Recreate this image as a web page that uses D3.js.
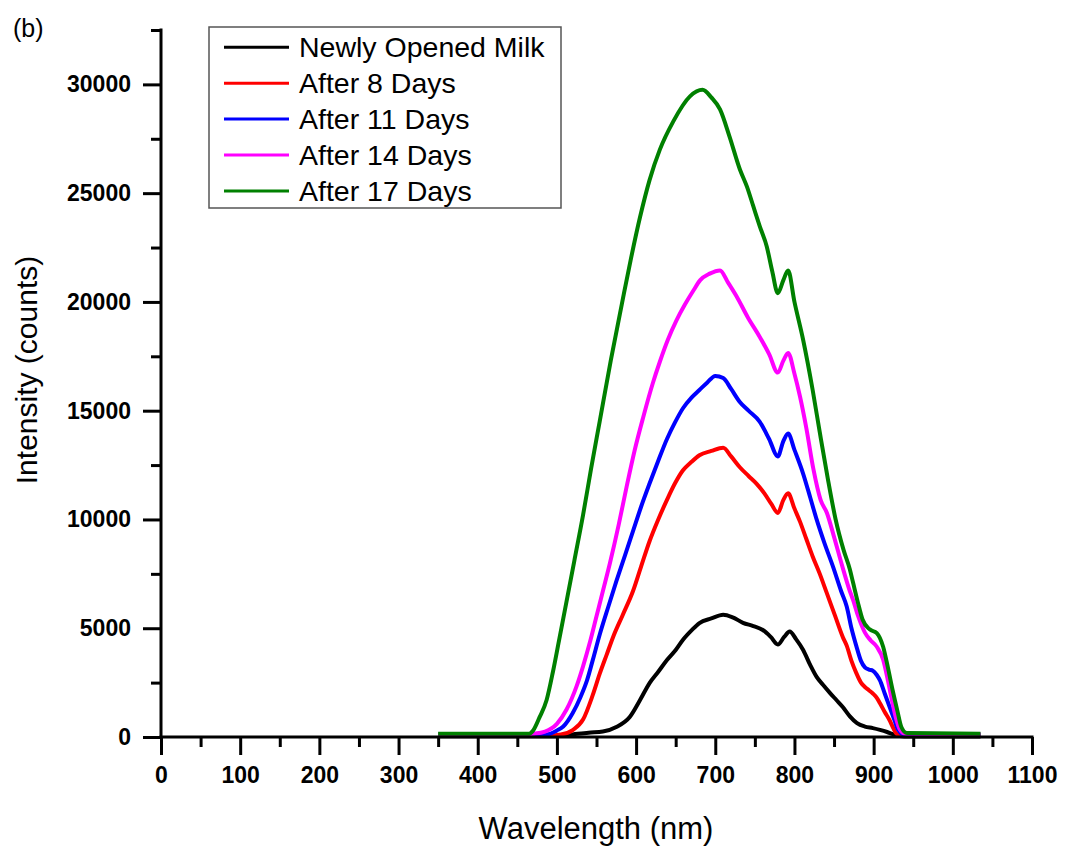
<!DOCTYPE html>
<html>
<head>
<meta charset="utf-8">
<script src="https://cdn.jsdelivr.net/npm/d3@7"></script>
<style>
  body { margin: 0; background: #fff; }
  svg { display: block; font-family: "Liberation Sans", Arial, sans-serif; }
</style>
</head>
<body>
<svg id="svg" width="1072" height="850"></svg>
<script>
/**
 * DATA  (wavelength nm, intensity counts)
 */
var seriesNames = ["Newly Opened Milk", "After 8 Days", "After 11 Days", "After 14 Days", "After 17 Days"];
var seriesColors = ["#000000", "#ff0000", "#0000ff", "#ff00ff", "#008000"];

var newlyOpened = [[350,30],[400,30],[450,30],[500,40],[520,120],[540,200],[558,250],[575,460],[592,920],[605,1700],[617,2480],[628,3000],[639,3540],[650,4000],[659,4460],[670,4900],[680,5240],[695,5450],[710,5620],[722,5500],[735,5250],[748,5100],[760,4920],[770,4600],[779,4250],[787,4600],[794,4850],[802,4500],[811,4000],[820,3300],[828,2760],[836,2400],[845,2020],[853,1700],[861,1380],[870,950],[879,640],[889,480],[899,410],[908,330],[917,230],[925,120],[933,50],[945,20],[1000,20],[1035,20]];

var after8 = [[350,80],[450,80],[490,80],[505,120],[520,320],[533,800],[545,1900],[554,2900],[563,3800],[571,4600],[583,5600],[596,6700],[606,7800],[617,9000],[628,10000],[639,10900],[649,11650],[659,12250],[670,12650],[680,12950],[695,13150],[710,13300],[720,12900],[731,12400],[742,12000],[752,11650],[762,11200],[771,10700],[779,10300],[786,10900],[792,11200],[800,10500],[807,9900],[815,9100],[823,8300],[832,7500],[841,6600],[851,5600],[861,4600],[866,4200],[872,3500],[878,2950],[884,2500],[889,2300],[894,2150],[899,2000],[904,1800],[908,1550],[914,1150],[920,780],[925,400],[929,150],[935,80],[1035,80]];

var after11 = [[350,100],[460,100],[487,120],[500,300],[508,480],[520,1100],[530,1850],[538,2600],[545,3500],[554,4700],[565,6000],[575,7150],[586,8350],[596,9450],[606,10550],[617,11650],[628,12700],[639,13700],[649,14450],[659,15100],[670,15600],[680,15950],[690,16300],[700,16600],[710,16500],[720,16000],[731,15400],[742,15000],[756,14500],[768,13700],[779,12900],[786,13600],[792,13950],[800,13200],[811,12100],[820,11000],[828,10000],[838,8900],[849,7800],[859,6700],[866,6000],[872,5000],[878,4200],[884,3500],[889,3200],[894,3100],[899,3050],[904,2850],[908,2600],[914,2000],[920,1400],[926,800],[931,330],[938,120],[1035,100]];

var after14 = [[350,120],[460,120],[470,150],[485,250],[500,600],[512,1250],[525,2350],[533,3250],[542,4400],[550,5550],[558,6700],[567,8000],[578,9750],[588,11500],[598,13150],[609,14700],[621,16250],[630,17250],[640,18250],[651,19150],[662,19900],[672,20500],[681,21000],[693,21300],[706,21450],[716,20900],[727,20250],[741,19300],[756,18400],[768,17600],[779,16750],[786,17300],[792,17650],[800,16700],[807,15650],[815,14200],[824,12300],[833,10900],[841,10300],[850,9200],[860,7900],[870,6700],[874,6300],[880,5600],[889,4800],[896,4450],[904,4150],[912,3550],[918,2600],[923,1700],[928,900],[933,350],[940,150],[1035,130]];

var after17 = [[350,150],[465,150],[470,300],[478,900],[487,1700],[495,3000],[503,4500],[512,6200],[522,8100],[533,10200],[543,12300],[554,14500],[568,17300],[582,19900],[593,21900],[605,23900],[617,25600],[630,27000],[647,28300],[668,29450],[684,29750],[695,29400],[706,28850],[718,27600],[731,26100],[740,25300],[748,24400],[756,23500],[765,22550],[772,21400],[779,20400],[786,21000],[792,21450],[800,20000],[811,18250],[823,15950],[832,14000],[842,11900],[852,10000],[862,8600],[870,7700],[874,7100],[880,6200],[886,5400],[895,4950],[904,4780],[912,4150],[918,3200],[924,2150],[930,1200],[935,460],[942,180],[1035,150]];

var allSeries = [newlyOpened, after8, after11, after14, after17];

var xMajorTicks = d3.range(0, 1101, 100);
var xMinorTicks = d3.range(50, 1100, 100);
var yMajorTicks = d3.range(0, 30001, 5000);
var yMinorTicks = d3.range(2500, 32501, 5000);


/**
 * SCALES
 */
var svg = d3.select("#svg");

var x = d3.scaleLinear().domain([0, 1100]).range([161, 1032]);
var y = d3.scaleLinear().domain([0, 32500]).range([737, 30]);

var tickFont = function(sel) {
    sel.selectAll("text")
        .attr("font-size", 23)
        .attr("font-weight", "bold")
        .attr("font-family", "Liberation Sans, Arial, sans-serif")
        .attr("fill", "#000");
    sel.selectAll("line").attr("stroke", "#000").attr("stroke-width", 3);
    sel.select(".domain").remove();
};


/* CURVES */
var line = d3.line()
    .x(function(d) { return x(d[0]); })
    .y(function(d) { return y(d[1]); })
    .curve(d3.curveMonotoneX);

svg.append("g").selectAll("path")
    .data(allSeries)
    .enter().append("path")
    .attr("d", line)
    .attr("fill", "none")
    .attr("stroke", function(d, i) { return seriesColors[i]; })
    .attr("stroke-width", 4)
    .attr("stroke-linejoin", "round");


/* AXES */
svg.append("g").attr("transform", "translate(0,737)")
    .call(d3.axisBottom(x).tickValues(xMinorTicks).tickSize(10).tickSizeOuter(0).tickFormat(""))
    .call(tickFont);
svg.append("g").attr("transform", "translate(0,737)")
    .call(d3.axisBottom(x).tickValues(xMajorTicks).tickSize(18).tickPadding(12).tickSizeOuter(0).tickFormat(d3.format("d")))
    .call(tickFont);

svg.append("g").attr("transform", "translate(161,0)")
    .call(d3.axisLeft(y).tickValues(yMinorTicks).tickSize(10).tickSizeOuter(0).tickFormat(""))
    .call(tickFont);
svg.append("g").attr("transform", "translate(161,0)")
    .call(d3.axisLeft(y).tickValues(yMajorTicks).tickSize(18).tickPadding(12).tickSizeOuter(0).tickFormat(d3.format("d")))
    .call(tickFont);

// axis lines
svg.append("line")
    .attr("x1", x(0) - 1.5).attr("x2", x(1100) + 1.5)
    .attr("y1", y(0)).attr("y2", y(0))
    .attr("stroke", "#000").attr("stroke-width", 3);
svg.append("line")
    .attr("x1", x(0)).attr("x2", x(0))
    .attr("y1", y(0)).attr("y2", y(32500) - 1.5)
    .attr("stroke", "#000").attr("stroke-width", 3);


/* TITLES */
svg.append("text")
    .attr("x", 596).attr("y", 839)
    .attr("text-anchor", "middle")
    .attr("font-size", 31)
    .text("Wavelength (nm)");

svg.append("text")
    .attr("transform", "translate(37,370) rotate(-90)")
    .attr("text-anchor", "middle")
    .attr("font-size", 30)
    .text("Intensity (counts)");

svg.append("text")
    .attr("x", 13).attr("y", 37)
    .attr("font-size", 25)
    .text("(b)");


/* LEGEND */
var legend = svg.append("g");
legend.append("rect")
    .attr("x", 209).attr("y", 27)
    .attr("width", 352).attr("height", 181)
    .attr("fill", "#fff")
    .attr("stroke", "#555")
    .attr("stroke-width", 1.5);

var rows = legend.selectAll("g.row")
    .data(seriesNames)
    .enter().append("g")
    .attr("class", "row")
    .attr("transform", function(d, i) { return "translate(0," + (47.3 + i * 35.9) + ")"; });

rows.append("line")
    .attr("x1", 224).attr("x2", 289)
    .attr("stroke", function(d, i) { return seriesColors[i]; })
    .attr("stroke-width", 3);

rows.append("text")
    .attr("x", 299).attr("dy", "0.35em")
    .attr("font-size", 28.5)
    .text(function(d) { return d; });
</script>
</body>
</html>
